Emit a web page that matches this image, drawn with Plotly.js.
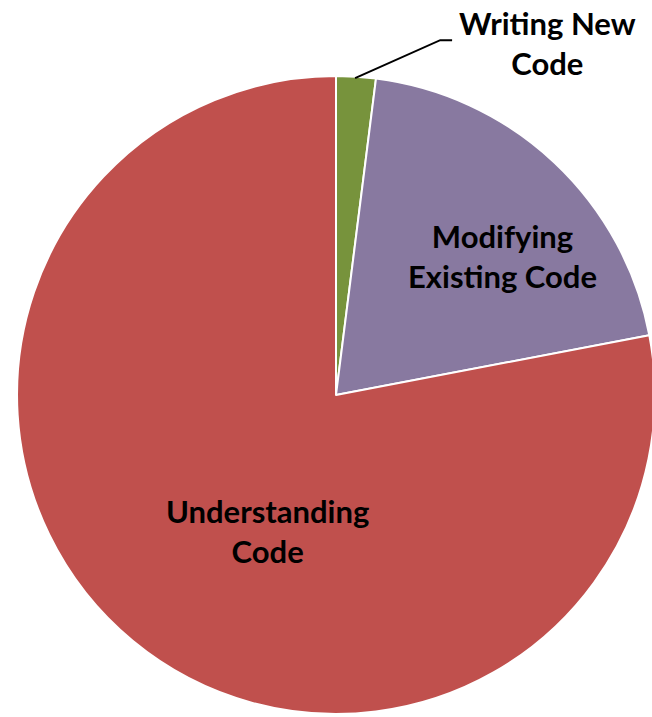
<!DOCTYPE html>
<html>
<head>
<meta charset="utf-8">
<script src="https://cdn.plot.ly/plotly-3.0.1.min.js"></script>
<style>html,body{margin:0;padding:0;background:#fff;overflow:hidden;}#chart{width:660px;height:717px;}</style>
</head>
<body>
<div id="chart"></div>
<script>
// Data
const categories = ["Writing New Code", "Modifying Existing Code", "Understanding Code"];
const labelLines = [["Writing New", "Code"], ["Modifying", "Existing Code"], ["Understanding", "Code"]];
const shares = [2, 20, 78];
const colors = ["#77933C", "#8879A0", "#C0504D"];

// label placement (paper coords) - layout only
const labelPos = [[0.829, 0.94], [0.761, 0.643], [0.405, 0.259]];

const font = {family: "Lato, 'Open Sans', sans-serif", size: 31, color: "#000"};

const trace = {
  type: "pie",
  labels: categories,
  values: shares,
  sort: false,
  direction: "clockwise",
  rotation: 0,
  marker: {colors: colors, line: {color: "#ffffff", width: 2}},
  textinfo: "none",
  hoverinfo: "label+percent",
  domain: {x: [0.0258, 0.9924], y: [0.0042, 0.894]},
  showlegend: false
};

const annotations = categories.map((c, i) => ({
  xref: "paper", yref: "paper",
  x: labelPos[i][0], y: labelPos[i][1],
  xanchor: "center", yanchor: "middle",
  text: "<b>" + labelLines[i].join("<br>") + "</b>",
  showarrow: false,
  font: font
}));

const layout = {
  width: 660, height: 717,
  margin: {l: 0, r: 0, t: 0, b: 0},
  paper_bgcolor: "#ffffff",
  annotations: annotations,
  shapes: [{
    type: "path", xref: "paper", yref: "paper",
    path: "M 0.538,0.891 L 0.667,0.944 L 0.685,0.944",
    line: {color: "#000", width: 2}
  }]
};

Plotly.newPlot("chart", [trace], layout, {displayModeBar: false, staticPlot: true});
</script>
</body>
</html>
